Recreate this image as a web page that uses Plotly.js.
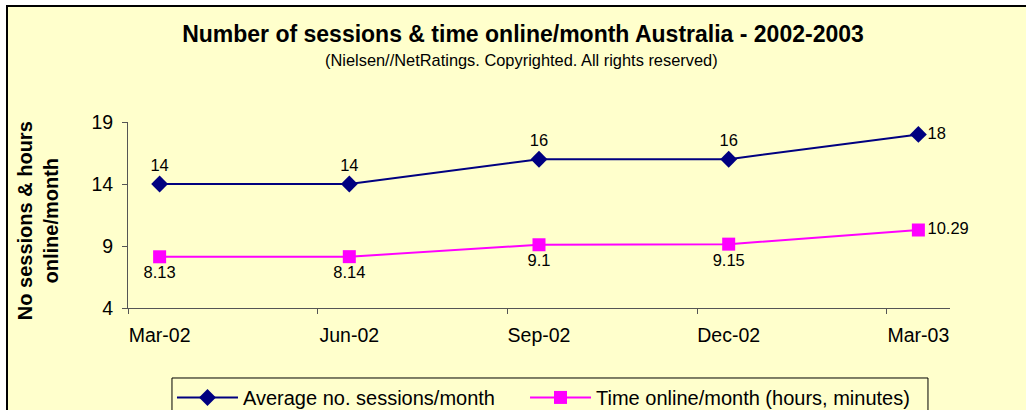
<!DOCTYPE html>
<html>
<head>
<meta charset="utf-8">
<script src="https://cdn.plot.ly/plotly-3.0.1.min.js"></script>
<style>html,body{margin:0;padding:0;background:#fff;}#chart{width:1026px;height:410px;}</style>
</head>
<body>
<div id="chart"></div>
<script>
var categories = ["Mar-02", "Jun-02", "Sep-02", "Dec-02", "Mar-03"];
var sessions = [14, 14, 16, 16, 18];
var timeOnline = [8.13, 8.14, 9.1, 9.15, 10.29];
var timeLabels = ["8.13", "8.14", "9.1", "9.15", "10.29"];
var seriesNames = ["Average no. sessions/month", "Time online/month (hours, minutes)"];
var yTicks = [4, 9, 14, 19];

// months since Mar-02 (quarterly points on a monthly date-style axis)
var monthIdx = categories.map(function (c, i) { return i * 3; });
var boundaryTicks = categories.map(function (c, i) { return i * 3 - 0.5; });

var FONT = "Arial, Liberation Sans, sans-serif";
var BG = "#FFFFCC";

var posTop = sessions.map(function (v, i) { return i === sessions.length - 1 ? "middle right" : "top center"; });
var posBot = timeOnline.map(function (v, i) { return i === timeOnline.length - 1 ? "middle right" : "bottom center"; });

var traces = [
  {
    x: monthIdx, y: sessions, name: seriesNames[0], type: "scatter", mode: "lines+markers+text",
    text: sessions.map(String), textposition: posTop,
    textfont: {family: FONT, size: 16.5, color: "#000"},
    line: {color: "#000080", width: 2},
    marker: {symbol: "diamond", size: 13, color: "#000080"},
    cliponaxis: false, legend: "legend"
  },
  {
    x: monthIdx, y: timeOnline, name: seriesNames[1], type: "scatter", mode: "lines+markers+text",
    text: timeLabels, textposition: posBot,
    textfont: {family: FONT, size: 16.5, color: "#000"},
    line: {color: "#FF00FF", width: 2},
    marker: {symbol: "square", size: 13, color: "#FF00FF"},
    cliponaxis: false, legend: "legend2"
  },
  {
    x: [], y: [], xaxis: "x2", showlegend: false, hoverinfo: "skip", type: "scatter"
  }
];

var legendCommon = {
  orientation: "h", xanchor: "left", y: -0.376, yanchor: "top",
  bgcolor: "rgba(0,0,0,0)", borderwidth: 0,
  font: {family: FONT, size: 20, color: "#000"},
  itemwidth: 61
};

var layout = {
  width: 1026, height: 410,
  margin: {l: 128, r: 76, t: 122, b: 102, autoexpand: false},
  paper_bgcolor: "#FFFFFF",
  plot_bgcolor: BG,
  font: {family: FONT, color: "#000"},
  showlegend: true,
  title: {
    text: "<b>Number of sessions & time online/month Australia - 2002-2003</b>",
    font: {family: FONT, size: 23, color: "#000"},
    xref: "paper", x: 0.4805, xanchor: "center",
    yref: "container", y: 0.917, yanchor: "middle"
  },
  xaxis: {
    range: [-0.5, 12.5], tickvals: monthIdx, ticktext: categories,
    ticks: "", showline: true, linecolor: "#555", linewidth: 1,
    showgrid: false, zeroline: false,
    tickfont: {family: FONT, size: 19.5, color: "#000"},
    ticklabelstandoff: 10
  },
  xaxis2: {
    overlaying: "x", anchor: "y", side: "bottom",
    range: [-0.5, 12.5], tickvals: boundaryTicks,
    ticks: "outside", ticklen: 5, tickcolor: "#555",
    showticklabels: false, showgrid: false, zeroline: false, showline: false
  },
  yaxis: {
    range: [4, 19], tickvals: yTicks,
    ticks: "outside", ticklen: 5, tickcolor: "#555",
    showline: true, linecolor: "#555", linewidth: 1,
    showgrid: false, zeroline: false,
    tickfont: {family: FONT, size: 19.5, color: "#000"},
    ticklabelstandoff: 5
  },
  legend: Object.assign({}, legendCommon, {x: 0.0535}),
  legend2: Object.assign({}, legendCommon, {x: 0.483}),
  shapes: [
    {type: "rect", xref: "paper", yref: "paper", x0: -0.1472, x1: 1.1, y0: -0.6, y1: 1.6237,
     fillcolor: BG, line: {color: "#000", width: 2}, layer: "below"},
    {type: "rect", xref: "paper", yref: "paper", x0: 0.0535, x1: 0.9732, y0: -0.62, y1: -0.3763,
     fillcolor: "rgba(0,0,0,0)", line: {color: "#000", width: 1}, layer: "above"}
  ],
  annotations: [
    {text: "(Nielsen//NetRatings. Copyrighted. All rights reserved)", xref: "paper", yref: "paper",
     x: 0.479, y: 1.333, xanchor: "center", yanchor: "middle", showarrow: false,
     font: {family: FONT, size: 16.4, color: "#000"}},
    {text: "<b>No sessions & hours<br>online/month</b>", xref: "paper", yref: "paper",
     x: -0.110, y: 0.47, xanchor: "center", yanchor: "middle", showarrow: false, textangle: -90,
     font: {family: FONT, size: 20, color: "#000"}}
  ]
};

Plotly.newPlot("chart", traces, layout, {displayModeBar: false, staticPlot: true});
</script>
</body>
</html>
